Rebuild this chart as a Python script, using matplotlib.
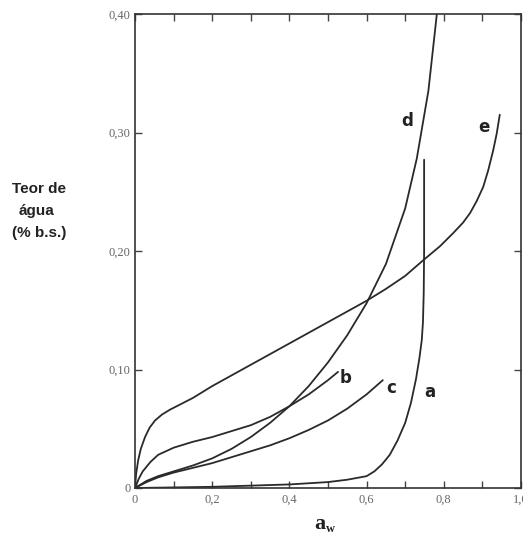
import matplotlib
matplotlib.use("Agg")
import matplotlib.pyplot as plt
from matplotlib.ticker import FixedLocator, FixedFormatter

# Data (water activity a_w vs moisture content)
a_x = [0.0, 0.2, 0.4, 0.5, 0.55, 0.6, 0.62, 0.64, 0.66, 0.68, 0.70, 0.715, 0.728, 0.737, 0.743, 0.746, 0.748, 0.749, 0.749]
a_y = [0.0, 0.001, 0.003, 0.005, 0.007, 0.010, 0.014, 0.020, 0.028, 0.040, 0.055, 0.072, 0.092, 0.110, 0.125, 0.140, 0.165, 0.200, 0.277]

b_x = [0.0, 0.01, 0.02, 0.04, 0.06, 0.10, 0.15, 0.20, 0.25, 0.30, 0.35, 0.40, 0.45, 0.50, 0.526]
b_y = [0.0, 0.008, 0.014, 0.022, 0.028, 0.034, 0.039, 0.043, 0.048, 0.053, 0.060, 0.069, 0.079, 0.091, 0.098]

c_x = [0.0, 0.03, 0.06, 0.10, 0.15, 0.20, 0.25, 0.30, 0.35, 0.40, 0.45, 0.50, 0.55, 0.60, 0.642]
c_y = [0.0, 0.005, 0.009, 0.013, 0.017, 0.021, 0.026, 0.031, 0.036, 0.042, 0.049, 0.057, 0.067, 0.079, 0.091]

d_x = [0.0, 0.03, 0.06, 0.10, 0.15, 0.20, 0.25, 0.30, 0.35, 0.40, 0.45, 0.50, 0.55, 0.60, 0.65, 0.70, 0.73, 0.76, 0.782]
d_y = [0.0, 0.006, 0.010, 0.014, 0.019, 0.025, 0.033, 0.043, 0.055, 0.069, 0.086, 0.106, 0.129, 0.156, 0.189, 0.236, 0.278, 0.335, 0.400]

e_x = [0.0, 0.003, 0.008, 0.015, 0.026, 0.038, 0.052, 0.07, 0.09, 0.12, 0.15, 0.20, 0.25, 0.30, 0.35, 0.40, 0.45,
       0.50, 0.55, 0.60, 0.65, 0.70, 0.746, 0.79, 0.824, 0.85, 0.868, 0.885, 0.902, 0.915, 0.928, 0.937, 0.945]
e_y = [0.0, 0.012, 0.023, 0.033, 0.043, 0.051, 0.057, 0.062, 0.066, 0.071, 0.076, 0.086, 0.095, 0.104, 0.113, 0.122, 0.131,
       0.140, 0.149, 0.158, 0.168, 0.179, 0.192, 0.204, 0.215, 0.224, 0.232, 0.242, 0.254, 0.268, 0.285, 0.299, 0.315]

curve_labels = ["a", "b", "c", "d", "e"]
label_pos = [(0.763, 0.081), (0.546, 0.093), (0.664, 0.084), (0.705, 0.31), (0.905, 0.305)]

x_major = [0.0, 0.2, 0.4, 0.6, 0.8, 1.0]
x_major_labels = ["0", "0,2", "0,4", "0,6", "0,8", "1,0"]
x_minor = [0.1, 0.3, 0.5, 0.7, 0.9]
y_major = [0.0, 0.10, 0.20, 0.30, 0.40]
y_major_labels = ["0", "0,10", "0,20", "0,30", "0,40"]

fig = plt.figure(figsize=(5.23, 5.38), dpi=100)
ax = fig.add_axes([135/523, 50/538, 386/523, 474/538])

lc = "#2a2a2a"
for xs, ys in [(a_x, a_y), (b_x, b_y), (c_x, c_y), (d_x, d_y), (e_x, e_y)]:
    ax.plot(xs, ys, color=lc, lw=1.3, solid_capstyle="round", solid_joinstyle="round")

for lab, (lx, ly) in zip(curve_labels, label_pos):
    ax.text(lx, ly, lab, fontsize=12, fontweight="bold", color="#222222",
            ha="center", va="center", family="DejaVu Sans")

ax.set_xlim(0, 1.0)
ax.set_ylim(0, 0.40)

ax.xaxis.set_major_locator(FixedLocator(x_major))
ax.xaxis.set_major_formatter(FixedFormatter(x_major_labels))
ax.xaxis.set_minor_locator(FixedLocator(x_minor))
ax.yaxis.set_major_locator(FixedLocator(y_major))
ax.yaxis.set_major_formatter(FixedFormatter(y_major_labels))

ax.tick_params(axis="both", which="both", direction="in", colors="#444444",
               labelcolor="#666666", labelsize=9, width=1.0)
ax.tick_params(axis="x", which="both", top=True, length=5, pad=4)
ax.tick_params(axis="y", which="both", right=True, length=5, pad=3)
for lab in ax.get_xticklabels() + ax.get_yticklabels():
    lab.set_family("Liberation Serif")

for s in ax.spines.values():
    s.set_color("#333333")
    s.set_linewidth(1.2)

# x-axis label: a with subscript w
fig.text(320/523, 1 - 524/538, "a", fontsize=16, fontweight="bold", ha="center", va="center",
         family="Liberation Serif", color="#222222")
fig.text(330/523, 1 - 529/538, "w", fontsize=9, fontweight="bold", ha="center", va="center",
         family="Liberation Serif", color="#222222")

fig.text(12/523, 1 - 189/538, "Teor de", fontsize=11, fontweight="bold", ha="left", va="center",
         family="Liberation Sans", color="#222222")
fig.text(19/523, 1 - 211/538, "água", fontsize=11, fontweight="bold", ha="left", va="center",
         family="Liberation Sans", color="#222222")
fig.text(12/523, 1 - 233/538, "(% b.s.)", fontsize=11, fontweight="bold", ha="left", va="center",
         family="Liberation Sans", color="#222222")

fig.savefig("out.png", dpi=100)
